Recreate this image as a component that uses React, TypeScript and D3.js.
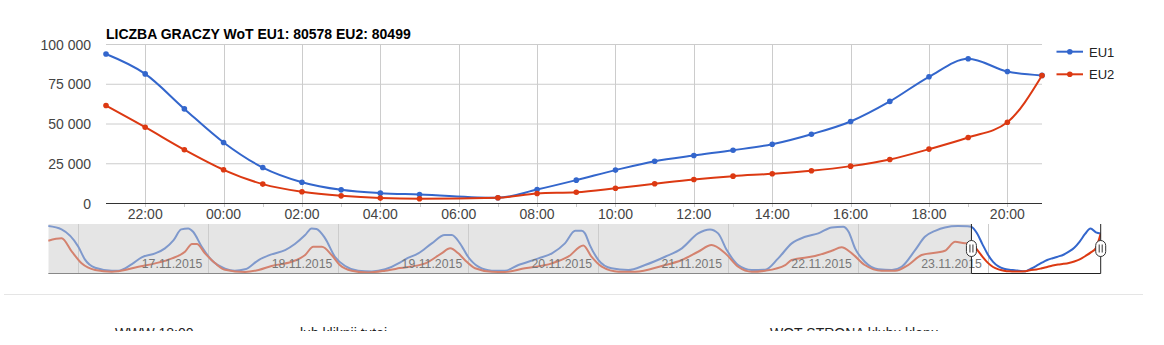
import React from "react";
import * as d3 from "d3";

const title = "LICZBA GRACZY WoT EU1: 80578 EU2: 80499";
const seriesNames = ["EU1", "EU2"];
const colors = ["#3366cc", "#dc3912"];

const mainTimes = [
  "2015-11-23 21:00", "2015-11-23 22:00", "2015-11-23 23:00", "2015-11-24 00:00",
  "2015-11-24 01:00", "2015-11-24 02:00", "2015-11-24 03:00", "2015-11-24 04:00",
  "2015-11-24 05:00", "2015-11-24 07:00", "2015-11-24 08:00", "2015-11-24 09:00",
  "2015-11-24 10:00", "2015-11-24 11:00", "2015-11-24 12:00", "2015-11-24 13:00",
  "2015-11-24 14:00", "2015-11-24 15:00", "2015-11-24 16:00", "2015-11-24 17:00",
  "2015-11-24 18:00", "2015-11-24 19:00", "2015-11-24 20:00", "2015-11-24 20:53",
];
const mainEU1 = [94000, 81500, 59500, 38400, 22600, 13400, 8600, 6500, 5700, 3600, 8800, 14700, 21000, 26600, 30200, 33500, 37300, 43600, 51600, 64200, 79700, 91000, 83000, 80578];
const mainEU2 = [61600, 48000, 33800, 21200, 12200, 7400, 4800, 3400, 3000, 3600, 6300, 7100, 9600, 12400, 15100, 17200, 18700, 20600, 23500, 27700, 34200, 41500, 51100, 80499];
const yTicks = [0, 25000, 50000, 75000, 100000];

// range filter overview: hours since 2015-11-17 00:00
const rangeBase = "2015-11-17 00:00";
const rangeEU1Hours = [-5.55, -3.1, 0, 1.2, 3.1, 6.2, 7.4, 9.9, 11.7, 14.2, 16, 17.6, 19, 20.3, 21.2, 22.8, 24.6, 27.1, 28.9, 30.8, 33.3, 35.7, 38.2, 40, 41.9, 43.1, 44, 45.6, 47.4, 49.3, 51.7, 54.2, 56.7, 59.4, 60.4, 62.8, 65.3, 67.7, 69, 70.5, 72, 73.9, 76.4, 78.8, 81.3, 85, 87.5, 89.9, 91.8, 93, 93.6, 94.5, 96.1, 98.5, 101.6, 104.7, 108.4, 111.5, 114.5, 116.7, 118.2, 119.8, 121.9, 124.4, 126.9, 129.3, 131.8, 134.3, 136.7, 139.2, 141.3, 142.3, 143.5, 145.3, 147.8, 150.3, 152.1, 154.6, 156.4, 158.3, 160.1, 162.5, 164.3];
const rangeEU1 = [95700, 89000, 53600, 27900, 10800, 4700, 4700, 18300, 32000, 40100, 50300, 67200, 89000, 91000, 84100, 53600, 26500, 9000, 4700, 7500, 26500, 38100, 46800, 59100, 77400, 91000, 90000, 70700, 33200, 14300, 4700, 3000, 7500, 21000, 27900, 40100, 60500, 77400, 77400, 60500, 33200, 12800, 4700, 4700, 16300, 29900, 40100, 60500, 86100, 86100, 80900, 57000, 26500, 9600, 6100, 16300, 33200, 50300, 80900, 89000, 80900, 46800, 16300, 6100, 6800, 29900, 60500, 73900, 80900, 93100, 94300, 84100, 50300, 23000, 7500, 6100, 12800, 46800, 73900, 86100, 93000, 95700, 95500];
const rangeEU2Hours = [-5.55, -3.1, -1.2, 0.6, 3.1, 6.2, 7.4, 11.1, 14.2, 17.3, 19.7, 21, 21.9, 23.4, 25.3, 27.1, 30.8, 33.3, 35.7, 39.4, 41.9, 43.4, 45, 46.8, 48.3, 50.5, 53.6, 56.7, 59.4, 64.1, 67.1, 68.7, 70.2, 71.4, 73.3, 76.4, 78.8, 82.5, 87.5, 90.5, 93.3, 94.8, 96.7, 99.8, 102.9, 107.8, 111.5, 114.5, 117, 119.5, 121.9, 124.4, 126.9, 130.6, 131.8, 136.1, 139.2, 141, 142.9, 145.3, 148.4, 150.9, 153.3, 155.8, 160.1, 162, 163.8];
const rangeEU2 = [65800, 70700, 43400, 19700, 6100, 2600, 3700, 12800, 19700, 29900, 43400, 59100, 59100, 40100, 19700, 6500, 2000, 6100, 14300, 23000, 36700, 53600, 53600, 36700, 16300, 4700, 1000, 4700, 10000, 19700, 40100, 50300, 40100, 26500, 9600, 2600, 2000, 9600, 19700, 33200, 56000, 33200, 12800, 2600, 2600, 14300, 26500, 43400, 57000, 40100, 12800, 2600, 4700, 16300, 26500, 34600, 45400, 52300, 40100, 16300, 4700, 4700, 16300, 36700, 45400, 63700, 60500];

const footerTexts = ["WWW 18:00", "lub kliknij tutaj", "WOT STRONA klubu klanu"];

const parse = d3.timeParse("%Y-%m-%d %H:%M");
const pl = d3.formatLocale({ decimal: ",", thousands: " ", grouping: [3], currency: ["", " zł"] });
const fmtNum = pl.format(",d");
const fmtHour = d3.timeFormat("%H:%M");
const fmtDay = d3.timeFormat("%d.%m.%Y");

type P = { t: Date; v: number };

export default function App() {
  const font = "Arial, 'Liberation Sans', sans-serif";
  const times = mainTimes.map((s) => parse(s) as Date);
  const mainSeries: P[][] = [mainEU1, mainEU2].map((vals) => vals.map((v, i) => ({ t: times[i], v })));

  const x = d3.scaleTime().domain([times[0], times[times.length - 1]]).range([106, 1042]);
  const y = d3.scaleLinear().domain([0, 100000]).range([203.5, 44.5]);
  const line = d3.line<P>().x((d) => x(d.t)).y((d) => y(d.v)).curve(d3.curveMonotoneX);

  const majorTicks = x.ticks(d3.timeHour.every(2) as any).filter((t) => +t > +times[0] && +t < +times[times.length - 1]);
  const minorTicks = x.ticks(d3.timeHour.every(1) as any).filter((t) => t.getHours() % 2 === 1 && +t > +times[0] && +t < +times[times.length - 1]);

  // range filter
  const base = parse(rangeBase) as Date;
  const toDate = (h: number) => new Date(+base + h * 3600e3);
  const rangeSeries: P[][] = [
    rangeEU1Hours.map((h, i) => ({ t: toDate(h), v: rangeEU1[i] })).concat(mainSeries[0]),
    rangeEU2Hours.map((h, i) => ({ t: toDate(h), v: rangeEU2[i] })).concat(mainSeries[1]),
  ];
  const rStart = toDate(Math.min(rangeEU1Hours[0], rangeEU2Hours[0]));
  const rEnd = times[times.length - 1];
  const xr = d3.scaleTime().domain([rStart, rEnd]).range([48.3, 1100.7]);
  const yr = d3.scaleLinear().domain([0, 100000]).range([273, 224]);
  const rline = d3.line<P>().x((d) => xr(d.t)).y((d) => yr(d.v)).curve(d3.curveMonotoneX);
  const midnights = d3.timeDay.range(d3.timeDay.ceil(rStart), rEnd);
  const labelW = 61;
  const days = d3.timeDay
    .range(d3.timeDay.floor(rStart), rEnd)
    .map((d) => ({ d, lx: xr(d3.timeHour.offset(d, 12)) - 1.5 }))
    .filter((o) => o.lx >= 48.3 && o.lx + labelW <= 1100.7);
  const selL = xr(times[0]);
  const selR = xr(rEnd);

  return (
    <svg width={1164} height={345} style={{ position: "absolute", left: 0, top: 0, fontFamily: font }}>
      <defs>
        <clipPath id="rclip">
          <rect x={48.3} y={220} width={1052.4} height={56} />
        </clipPath>
        <clipPath id="fclip">
          <rect x={0} y={300} width={1164} height={31} />
        </clipPath>
      </defs>
      <rect width={1164} height={345} fill="#fff" />

      {/* title */}
      <text x={106} y={38.5} fontSize={14} fontWeight="bold" fill="#000">{title}</text>

      {/* grid */}
      {yTicks.map((v) => (
        <line key={"h" + v} x1={106} x2={1042} y1={y(v)} y2={y(v)} stroke="#ccc" />
      ))}
      {majorTicks.map((t) => (
        <line key={"v" + +t} x1={Math.round(x(t)) + 0.5} x2={Math.round(x(t)) + 0.5} y1={y(100000)} y2={207} stroke="#ccc" />
      ))}
      {minorTicks.map((t) => (
        <line key={"m" + +t} x1={Math.round(x(t)) + 0.5} x2={Math.round(x(t)) + 0.5} y1={203} y2={207} stroke="#ccc" />
      ))}
      <line x1={106} x2={1042} y1={y(0)} y2={y(0)} stroke="#333" />

      {/* axis labels */}
      {yTicks.map((v) => (
        <text key={"yl" + v} x={91} y={y(v) + 5} fontSize={14} textAnchor="end" fill="#444">{fmtNum(v)}</text>
      ))}
      {majorTicks.map((t) => (
        <text key={"xl" + +t} x={x(t)} y={219} fontSize={14} textAnchor="middle" fill="#444">{fmtHour(t)}</text>
      ))}

      {/* series */}
      {mainSeries.map((s, k) => (
        <g key={"s" + k}>
          <path d={line(s) as string} fill="none" stroke={colors[k]} strokeWidth={2} />
          {s.map((d, i) => (
            <circle key={i} cx={x(d.t)} cy={y(d.v)} r={2.8} fill={colors[k]} />
          ))}
        </g>
      ))}

      {/* legend */}
      {seriesNames.map((n, k) => (
        <g key={"lg" + n} transform={`translate(0, ${51.7 + k * 22.6})`}>
          <line x1={1056.5} x2={1083} y1={0} y2={0} stroke={colors[k]} strokeWidth={2} />
          <circle cx={1069.8} cy={0} r={2.8} fill={colors[k]} />
          <text x={1089} y={4.8} fontSize={13} fill="#222">{n}</text>
        </g>
      ))}

      {/* range filter */}
      <g clipPath="url(#rclip)">
        {midnights.map((t) => (
          <line key={"rg" + +t} x1={Math.round(xr(t)) + 0.5} x2={Math.round(xr(t)) + 0.5} y1={224} y2={273} stroke="#ccc" />
        ))}
        {rangeSeries.map((s, k) => (
          <path key={"rs" + k} d={rline(s) as string} fill="none" stroke={colors[k]} strokeWidth={2} />
        ))}
        <rect x={48.3} y={224} width={selL - 48.3} height={49} fill="#ccc" opacity={0.5} />
        {days.map((o) => (
          <text key={"dl" + +o.d} x={o.lx} y={268} fontSize={12.3} fill="#777">{fmtDay(o.d)}</text>
        ))}
      </g>
      <line x1={48.3} x2={selL} y1={273.5} y2={273.5} stroke="#888" />
      <line x1={selL} x2={selR} y1={273.5} y2={273.5} stroke="#222" />
      {[selL, selR].map((sx, i) => (
        <g key={"hd" + i}>
          <line x1={sx} x2={sx} y1={224} y2={273.5} stroke="#222" />
          <rect x={sx - 5} y={240.5} width={10} height={16} rx={5} fill="#fff" stroke="#333" />
          <line x1={sx - 1.5} x2={sx - 1.5} y1={244.5} y2={252.5} stroke="#333" />
          <line x1={sx + 1.5} x2={sx + 1.5} y1={244.5} y2={252.5} stroke="#333" />
        </g>
      ))}

      {/* separator and clipped footer */}
      <line x1={4} x2={1143} y1={294.5} y2={294.5} stroke="#e5e5e5" />
      <g clipPath="url(#fclip)" fontSize={14} fill="#222">
        <text x={115} y={338}>{footerTexts[0]}</text>
        <text x={300} y={338}>{footerTexts[1]}</text>
        <text x={770} y={338}>{footerTexts[2]}</text>
      </g>
    </svg>
  );
}
